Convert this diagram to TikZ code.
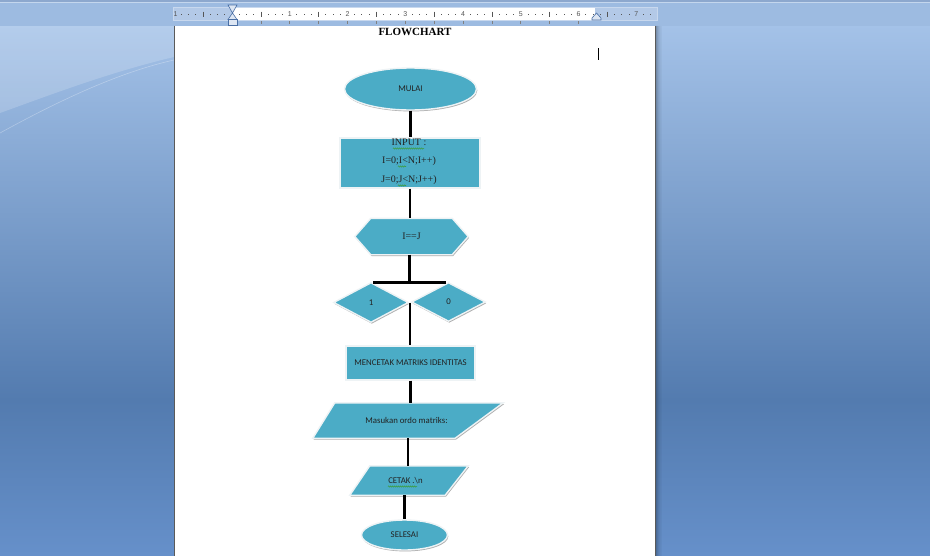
\documentclass[tikz,border=0pt]{standalone}
\usepackage{fontspec}
\setmainfont{Liberation Serif}
\newfontfamily\calfont{Carlito}
\newfontfamily\rulerfont{Liberation Sans}
\usetikzlibrary{shapes.geometric,calc,shadows,decorations.pathmorphing}
\pgfdeclarelayer{back}
\pgfdeclarelayer{shp}
\pgfsetlayers{back,shp,main}
\definecolor{aqua}{HTML}{4BACC6}
\definecolor{rim}{HTML}{EEF3F5}
\definecolor{shd}{HTML}{A6A6A6}
\definecolor{band}{HTML}{9DBBE1}
\definecolor{bandtop}{HTML}{8DA8CE}
\definecolor{bgtop}{HTML}{A4C2E8}
\definecolor{bgmid}{HTML}{537BAF}
\definecolor{bgbot}{HTML}{6690CA}
\definecolor{rulend}{HTML}{B3C9E7}
\definecolor{rulerim}{HTML}{C8D8EE}
\definecolor{marker}{HTML}{4A6FA5}
\definecolor{markfill}{HTML}{DDE6F3}
\definecolor{txt}{HTML}{222222}
\definecolor{rulnum}{HTML}{555555}
\definecolor{pageedge}{HTML}{5A5A5A}
\definecolor{squig}{HTML}{3A9A2A}
\begin{document}
\begin{tikzpicture}[x=1pt,y=-1pt,
  shapest/.style={fill=aqua, draw=rim, line width=1.4pt, line join=miter,
    drop shadow={shadow xshift=0.8pt, shadow yshift=-1.4pt, fill=shd, opacity=0.9}},
  geo/.style={rectangle, inner sep=0pt, draw=none},
  lbl/.style={font=\calfont\fontsize{8.8}{10}\selectfont, text=txt},
  serif/.style={font=\fontsize{10}{18.5}\selectfont, text=txt},
  conn/.style={line width=2.3pt, black},
  squiggle/.style={squig, line width=0.5pt, decorate, decoration={snake, amplitude=0.6pt, segment length=2pt}},
  tick/.style={rulnum, line width=0.6pt},
  inner sep=0pt]
\useasboundingbox (0,0) rectangle (930,555);

\begin{pgfonlayer}{back}
  % window background
  \shade[top color=bgtop, bottom color=bgmid] (0,25) rectangle (930,400);
  \shade[top color=bgmid, bottom color=bgbot] (0,400) rectangle (930,555.5);
  \fill[white, opacity=0.18] (0,25) -- (174,25) -- (174,57) .. controls (110,72) and (50,95) .. (0,113) -- cycle;
  \draw[white, opacity=0.3, line width=0.6pt] (0,133) .. controls (60,100) and (120,72) .. (174,60);
  % ruler band
  \fill[band] (0,0) rectangle (930,25.5);
  \fill[bandtop] (0,0) rectangle (930,1.5);
  \draw[white, opacity=0.4, line width=0.5pt] (0,2) -- (930,2);
  \fill[rulend] (173,7.5) rectangle (657,20.5);
  \fill[white] (232,7.5) rectangle (595,20.5);
  \draw[rulerim, line width=0.6pt] (173,7.5) rectangle (657,20.5);
  \foreach \i in {-7,...,58}{
    \pgfmathtruncatemacro\m{mod(abs(\i),8)}
    \pgfmathtruncatemacro\h{mod(abs(\i),4)}
    \pgfmathtruncatemacro\n{abs(\i)/8}
    \ifnum\i=0\relax\else
      \ifnum\m=0
        \node[font=\rulerfont\fontsize{7}{8}\selectfont, text=rulnum] at (232+\i*7.22,14) {\n};
      \else
        \ifnum\h=0
          \draw[tick] (232+\i*7.22,11.5) -- ++(0,5);
        \else
          \fill[rulnum] (232+\i*7.22-0.5,13.5) rectangle ++(1,1);
        \fi
      \fi
    \fi
  }
  \node[font=\rulerfont\fontsize{7}{8}\selectfont, text=rulnum] at (175.5,14) {1};
  \foreach \k in {1,...,12}{
    \draw[gray, line width=0.6pt] (232+\k*28.875,21) -- ++(0,3);
  }
  % indent markers
  \filldraw[fill=markfill, draw=marker, line width=0.6pt] (228,5) -- (237,5) -- (232.5,13) -- cycle;
  \filldraw[fill=markfill, draw=marker, line width=0.6pt] (232.5,13) -- (237,19.5) -- (228,19.5) -- cycle;
  \filldraw[fill=markfill, draw=marker, line width=0.6pt] (228,19.5) rectangle (237,25);
  \filldraw[fill=markfill, draw=marker, line width=0.6pt] (592,20) -- (592,18) -- (596.5,13) -- (601,18) -- (601,20) -- cycle;
  % page
  \fill[white] (175,25.5) rectangle (655,555.5);
  \draw[pageedge, line width=1pt] (174.5,25.5) -- (174.5,555.5);
  \draw[pageedge, line width=1pt] (655.5,25.5) -- (655.5,555.5);
  \foreach \j/\o in {1/0.25,2/0.18,3/0.12,4/0.08,5/0.05,6/0.03}{
    \draw[black, opacity=\o, line width=1pt] (655.5+\j,25.5) -- (655.5+\j,555.5);
  }
  % text cursor
  \draw[black, line width=1pt] (598,48) -- (598,60);
\end{pgfonlayer}

% title
\node[font=\bfseries\fontsize{11}{13}\selectfont, text=black] (title) at (415,32) {FLOWCHART};

% shapes
\node[shapest, ellipse, minimum width=132pt, minimum height=42pt, lbl] (mulai) at (410.5,89) {MULAI};
\node[shapest, rectangle, minimum width=140pt, minimum height=50pt] (input) at (410,163) {};
\node[serif, align=center] (inputtxt) at (409,161.5) {INPUT :\\I=0;I<N;I++)\\J=0;J<N;J++)};
\node[geo, minimum width=113pt, minimum height=36pt, serif] (hex) at (411.5,236.5) {I==J};
\node[geo, minimum width=74pt, minimum height=39pt, lbl] (d1) at (371,302.5) {1};
\node[geo, minimum width=73pt, minimum height=38pt, lbl] (d0) at (448.5,302) {0};
\node[shapest, rectangle, minimum width=129pt, minimum height=34pt, lbl] (cetakmat) at (410.5,363) {MENCETAK MATRIKS IDENTITAS};
\node[geo, minimum width=190pt, minimum height=35pt, lbl] (masuk) at (408,420.5) {Masukan ordo matriks:\hspace*{3pt}};
\node[geo, minimum width=118pt, minimum height=29pt, lbl] (cetak) at (409,480.5) {CETAK .\textbackslash n\hspace*{7pt}};
\node[shapest, ellipse, minimum width=86pt, minimum height=30pt, lbl] (selesai) at (404.5,535) {SELESAI};

\begin{pgfonlayer}{shp}
  \path[shapest] (hex.west) -- ([xshift=16pt]hex.north west) -- ([xshift=-16pt]hex.north east) -- (hex.east) -- ([xshift=-16pt]hex.south east) -- ([xshift=16pt]hex.south west) -- cycle;
  \path[shapest] (d1.west) -- (d1.north) -- (d1.east) -- (d1.south) -- cycle;
  \path[shapest] (d0.west) -- (d0.north) -- (d0.east) -- (d0.south) -- cycle;
  \path[shapest] ([xshift=22pt]masuk.north west) -- (masuk.north east) -- ([xshift=-48pt]masuk.south east) -- (masuk.south west) -- cycle;
  \path[shapest] ([xshift=20pt]cetak.north west) -- (cetak.north east) -- ([xshift=-23pt]cetak.south east) -- (cetak.south west) -- cycle;
\end{pgfonlayer}

% spell-check squiggles
\draw[squiggle] (393,148.5) -- (424,148.5);
\draw[squiggle] (398,166.5) -- (406,166.5);
\draw[squiggle] (398,185.5) -- (406,185.5);
\draw[squiggle] (388,486.5) -- (417,486.5);

% connectors
\coordinate (bar) at (409.5,282.5);
\coordinate (barL) at (373,282.5);
\coordinate (barR) at (446,282.5);
\coordinate (meet) at (410,302.5);
\draw[conn] (mulai.south) -- (mulai.south |- input.north);
\draw[conn] (input.south) -- (input.south |- hex.north);
\draw[conn] (hex.south -| bar) -- (bar);
\draw[conn] (barL) -- (barR);
\draw[conn] (meet) -- (meet |- cetakmat.north);
\draw[conn] (cetakmat.south) -- (cetakmat.south |- masuk.north);
\draw[conn] (masuk.south) -- (masuk.south |- cetak.north);
\draw[conn] (selesai.north |- cetak.south) -- (selesai.north);
\end{tikzpicture}
\end{document}
